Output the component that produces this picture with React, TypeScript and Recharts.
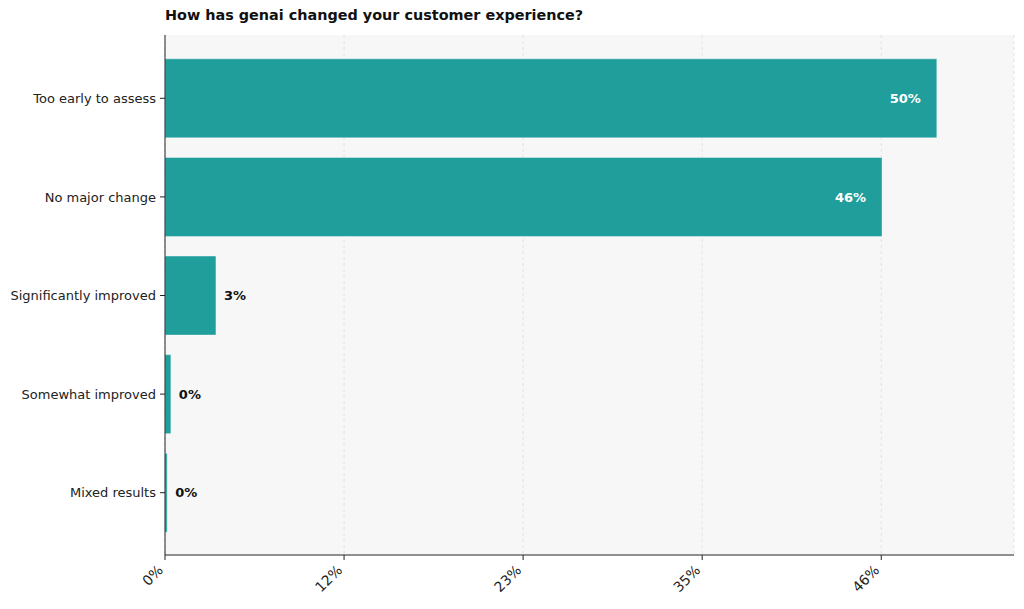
import React from "react";
import { BarChart, Bar, XAxis, YAxis, CartesianGrid, LabelList } from "recharts";

const categories = [
  "Too early to assess",
  "No major change",
  "Significantly improved",
  "Somewhat improved",
  "Mixed results",
];
const shares = [50.0, 46.45, 3.3, 0.38, 0.14];
const xTicks = [0, 11.6, 23.2, 34.8, 46.4];

const data = categories.map((name, i) => ({ name, value: shares[i] }));

const FONT = "'DejaVu Sans', sans-serif";
const BAR = "#1f9e9b";

function XTick(props: any) {
  const { x, y, payload } = props;
  const ax = x - 1;
  const ay = y + 9;
  return (
    <text
      x={ax}
      y={ay}
      transform={`rotate(-45, ${ax}, ${ay})`}
      textAnchor="end"
      fontSize={14}
      fontFamily={FONT}
      fill="#222"
    >
      {Math.round(payload.value)}%
    </text>
  );
}

function ValueLabel(props: any) {
  const { x, y, width, height, value } = props;
  const txt = `${Math.round(value)}%`;
  const inside = value > 10;
  return (
    <text
      x={inside ? x + width - 16 : x + width + 8}
      y={y + height / 2}
      dy="0.35em"
      textAnchor={inside ? "end" : "start"}
      fontSize={13}
      fontWeight="bold"
      fontFamily={FONT}
      fill={inside ? "#ffffff" : "#111111"}
    >
      {txt}
    </text>
  );
}

export default function App() {
  return (
    <div style={{ position: "absolute", left: 0, top: 0, width: 1024, height: 609, background: "#fff", fontFamily: FONT }}>
      <div
        style={{
          position: "absolute",
          left: 165,
          top: 7,
          fontSize: 14.4,
          fontWeight: "bold",
          color: "#111",
        }}
      >
        How has genai changed your customer experience?
      </div>
      <BarChart
        width={1024}
        height={609}
        data={data}
        layout="vertical"
        margin={{ top: 35, right: 10, bottom: 0, left: 0 }}
        barCategoryGap="10%"
      >
        <CartesianGrid horizontal={false} strokeDasharray="3 3" stroke="#e2e2e2" fill="#f7f7f7" />
        <XAxis
          type="number"
          domain={[0, 55]}
          ticks={xTicks}
          height={54}
          tick={<XTick />}
          axisLine={{ stroke: "#222" }}
          tickLine={{ stroke: "#222" }}
          tickSize={5}
        />
        <YAxis
          type="category"
          dataKey="name"
          width={165}
          tickSize={5}
          tickMargin={4}
          padding={{ top: 14, bottom: 13 }}
          axisLine={{ stroke: "#222" }}
          tickLine={{ stroke: "#222" }}
          tick={{ fontSize: 13, fill: "#222", fontFamily: FONT }}
        />
        <Bar dataKey="value" fill={BAR} stroke="#ffffff" strokeOpacity={0.5} strokeWidth={0.8} isAnimationActive={false}>
          <LabelList dataKey="value" content={<ValueLabel />} />
        </Bar>
      </BarChart>
    </div>
  );
}
